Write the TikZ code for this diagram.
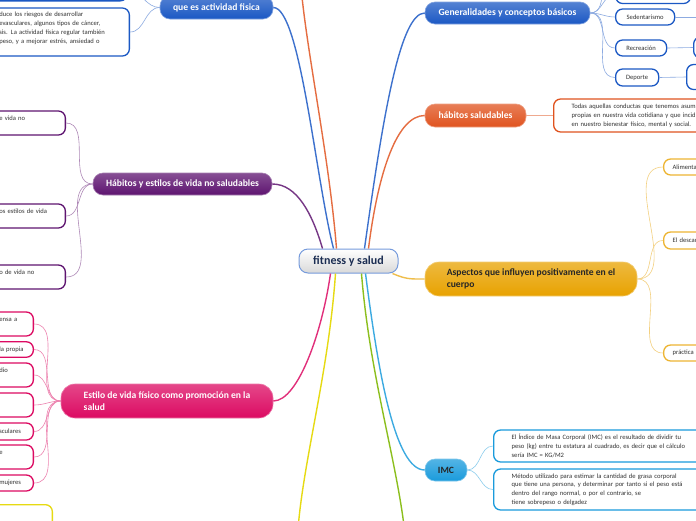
\documentclass[tikz,border=0pt]{standalone}
\usepackage{fontspec}
\setmainfont{Carlito}
\usepackage{tikz}

\definecolor{mmblue}{HTML}{1B58C4}
\definecolor{mmorange}{HTML}{E0531F}
\definecolor{mmpurple}{HTML}{5E1470}
\definecolor{mmamber}{HTML}{E8A200}
\definecolor{mmpink}{HTML}{DC0A62}
\definecolor{mmcyan}{HTML}{1A9BDC}
\definecolor{mmyellow}{HTML}{E6DA12}
\definecolor{mmgreen}{HTML}{8CBF1E}
\definecolor{mmnavy}{HTML}{1B2D52}

\newcommand\leaffont{\fontsize{6.6}{8.8}\selectfont}
\newcommand\topicfont{\bfseries\fontsize{9.6}{12.5}\selectfont}

\begin{document}
\begin{tikzpicture}[x=1pt,y=-1pt,
  topic/.style={draw=#1!55!white, line width=0.6pt, top color=#1!75!white, bottom color=#1,
    rounded corners=10pt, text=white, font=\topicfont, minimum height=22pt, inner xsep=6pt, inner ysep=2pt},
  leaf/.style={draw=#1, line width=1.3pt, fill=white, rounded corners=7pt, font=\leaffont,
    text=black!80, align=left, inner xsep=9pt, inner ysep=1pt},
  trunk/.style={draw=#1, line width=1.4pt},
  twig/.style={draw=#1!50!white, line width=0.6pt}]
  \useasboundingbox (0,0) rectangle (696,520);
  \fill[white] (0,0) rectangle (696,520);

  \node[draw=mmblue!60!white, line width=1pt, top color=white, bottom color=black!15, rounded corners=9pt,
    text=mmnavy, font=\bfseries\fontsize{12}{14}\selectfont, minimum width=99pt, minimum height=24pt] (fs) at (348.5,261) {fitness y salud};

  \node[topic=mmblue, minimum width=113pt, minimum height=23pt] (actfis) at (216.5,7.5) {que es actividad fisica};
  \node[topic=mmblue, minimum width=165pt] (gen) at (507.5,13) {Generalidades y conceptos básicos};
  \node[topic=mmorange, minimum width=101pt, minimum height=23pt] (habsal) at (475.5,115.5) {hábitos saludables};
  \node[topic=mmpurple, minimum width=179pt] (habno) at (182.5,184) {Hábitos y estilos de vida no saludables};
  \node[topic=mmamber, text=black!85, minimum width=212pt, minimum height=34pt, rounded corners=14pt, align=left] (asp) at (531,279)
    {Aspectos que influyen positivamente en el\\cuerpo};
  \node[topic=mmpink, minimum width=212pt, minimum height=34pt, rounded corners=14pt, align=left] (estilo) at (167,401)
    {Estilo de vida físico como promoción en la\\salud};
  \node[topic=mmcyan, text=black!85, minimum width=42pt] (imc) at (446,470) {IMC};

  \coordinate (hsup) at (300,-30);
  \coordinate (yldown) at (297,545);
  \coordinate (grdown) at (406,545);
  \coordinate (genup) at (615,-35);
  \coordinate (sedx) at (700,17);

  \node[leaf=mmblue, anchor=south east, minimum width=160pt, minimum height=20pt] (abtop) at (128,1.5) {};
  \node[leaf=mmblue, anchor=east, text width=121pt, minimum height=48pt] (abtxt) at (130,32)
    {duce los riesgos de desarrollar\\evasculares, algunos tipos de cáncer,\\sis. La actividad física regular también\\peso, y a mejorar estrés, ansiedad o\\\mbox{}};

  \node[leaf=mmblue, anchor=west, minimum width=75pt, minimum height=18pt] (gtop) at (615,-5.5) {};
  \node[leaf=mmblue, anchor=west, align=center, inner xsep=8pt, minimum width=59pt, minimum height=16pt] (sed) at (615,17) {Sedentarismo};
  \node[leaf=mmblue, anchor=west, align=center, inner xsep=8pt, minimum width=51pt, minimum height=16pt] (rec) at (615,48) {Recreación};
  \node[leaf=mmblue, anchor=west, align=center, inner xsep=8pt, minimum width=43pt, minimum height=17pt] (dep) at (615,77.5) {Deporte};
  \node[leaf=mmblue, anchor=west, minimum width=60pt, minimum height=21pt] (recdef) at (693,47.5) {};
  \node[leaf=mmblue, anchor=west, minimum width=60pt, minimum height=25pt] (depdef) at (686,77) {};

  \node[leaf=mmorange, anchor=west, inner xsep=18pt, text width=160pt, minimum height=33pt] (hsdef) at (553,115.5)
    {Todas aquellas conductas que tenemos asum\\propias en nuestra vida cotidiana y que incid\\en nuestro bienestar físico, mental y social.};

  \node[leaf=mmpurple, anchor=east, text width=57pt, minimum height=24pt] (h1) at (66,123) {e vida no\\\mbox{}};
  \node[leaf=mmpurple, anchor=east, text width=57pt, minimum height=24pt] (h2) at (66,216) {os estilos de vida\\\mbox{}};
  \node[leaf=mmpurple, anchor=east, text width=57pt, minimum height=24pt] (h3) at (66,277) {o de vida no\\\mbox{}};

  \node[leaf=mmamber!80!white, anchor=west, text width=50pt, minimum height=16pt] (a1) at (663,167) {Alimenta};
  \node[leaf=mmamber!80!white, anchor=west, text width=50pt, minimum height=17pt] (a2) at (663,240.5) {El descan};
  \node[leaf=mmamber!80!white, anchor=west, text width=50pt, minimum height=16pt] (a3) at (663,353) {práctica};

  \node[leaf=mmpink, anchor=east, text width=25pt, minimum height=24pt] (p1) at (34,324) {ensa~a\\\mbox{}};
  \node[leaf=mmpink, anchor=east, text width=25pt, minimum height=15.5pt] (p2) at (34,349.5) {la~propia};
  \node[leaf=mmpink, anchor=east, text width=25pt, minimum height=24pt] (p3) at (34,375) {dio\\\mbox{}};
  \node[leaf=mmpink, anchor=east, text width=25pt, minimum height=24pt] (p4) at (34,405) {\mbox{}\\\mbox{}};
  \node[leaf=mmpink, anchor=east, text width=25pt, minimum height=17pt] (p5) at (34,431.5) {sculares};
  \node[leaf=mmpink, anchor=east, text width=25pt, minimum height=24pt] (p6) at (34,457) {e\\\mbox{}};
  \node[leaf=mmpink, anchor=east, text width=25pt, minimum height=16pt] (p7) at (34,483) {mujeres};

  \node[leaf=mmyellow, anchor=north east, minimum width=90pt, minimum height=40pt] (y1) at (53,504) {};

  \node[leaf=mmcyan, anchor=west, inner xsep=18pt, text width=190pt, minimum height=32pt] (i1) at (493,446)
    {El Índice de Masa Corporal (IMC) es el resultado de dividir tu\\peso (kg) entre tu estatura al cuadrado, es decir que el cálculo\\sería IMC = KG/M2};
  \node[leaf=mmcyan, anchor=west, inner xsep=18pt, text width=190pt, minimum height=41pt] (i2) at (493,489.5)
    {Método utilizado para estimar la cantidad de grasa corporal\\que tiene una persona, y determinar por tanto si el peso está\\dentro del rango normal, o por el contrario, se\\tiene sobrepeso o delgadez};

  \draw[trunk=mmblue!85!white] (actfis.east) .. controls +(27,0) and +(-18,-70) .. ([xshift=-15pt]fs.north);
  \draw[trunk=mmorange!85!white] ([xshift=-12pt]fs.north) .. controls +(-8,-100) and +(2,60) .. (hsup);
  \draw[trunk=mmblue!85!white] ([xshift=16pt]fs.north) .. controls +(18,-129) and +(-25,0) .. (gen.west);
  \draw[trunk=mmorange!85!white] ([xshift=20pt]fs.north) .. controls +(10,-79) and +(-27,0) .. (habsal.west);
  \draw[trunk=mmpurple!85!white] (habno.east) .. controls +(25,0) and +(-10,-34) .. ([xshift=-26pt]fs.north);
  \draw[trunk=mmamber!70!white] ([xshift=44pt]fs.south) .. controls +(14,6) and +(-14,0) .. (asp.west);
  \draw[trunk=mmpink!85!white] ([xshift=-18pt]fs.south) .. controls +(-8,57) and +(25,0) .. (estilo.east);
  \draw[trunk=mmyellow] ([xshift=-13pt]fs.south) .. controls +(-7.5,107) and +(3,-75) .. (yldown);
  \draw[trunk=mmgreen] ([xshift=13pt]fs.south) .. controls +(8.5,107) and +(-6,-75) .. (grdown);
  \draw[trunk=mmcyan!85!white] ([xshift=17pt]fs.south) .. controls +(12.5,97) and +(-30,0) .. (imc.west);

  \path[twig=mmblue] (actfis.west) edge[out=180,in=0] (abtop.east)
                                   edge[out=180,in=0] (abtxt.east);
  \path[twig=mmblue] (gen.east) edge[out=0,in=180] (genup)
                                edge[out=0,in=180] (gtop.west)
                                edge[out=0,in=180] (sed.west)
                                edge[out=0,in=180] (rec.west)
                                edge[out=0,in=180] (dep.west);
  \path[twig=mmblue] (sed.east) edge (sedx)
        (rec.east) edge (recdef.west)
        (dep.east) edge (depdef.west);
  \path[twig=mmorange] (habsal.east) edge (hsdef.west);
  \path[twig=mmpurple] (habno.west) edge[out=180,in=0] (h1.east)
                                    edge[out=180,in=0] (h2.east)
                                    edge[out=180,in=0] (h3.east);
  \path[twig=mmamber] (asp.east) edge[out=0,in=180] (a1.west)
                                 edge[out=0,in=180] (a2.west)
                                 edge[out=0,in=180] (a3.west);
  \path[twig=mmpink] (estilo.west) edge[out=180,in=0] (p1.east)
                                   edge[out=180,in=0] (p2.east)
                                   edge[out=180,in=0] (p3.east)
                                   edge[out=180,in=0] (p4.east)
                                   edge[out=180,in=0] (p5.east)
                                   edge[out=180,in=0] (p6.east)
                                   edge[out=180,in=0] (p7.east);
  \path[twig=mmcyan] (imc.east) edge[out=0,in=180] (i1.west)
                                edge[out=0,in=180] (i2.west);
\end{tikzpicture}
\end{document}
